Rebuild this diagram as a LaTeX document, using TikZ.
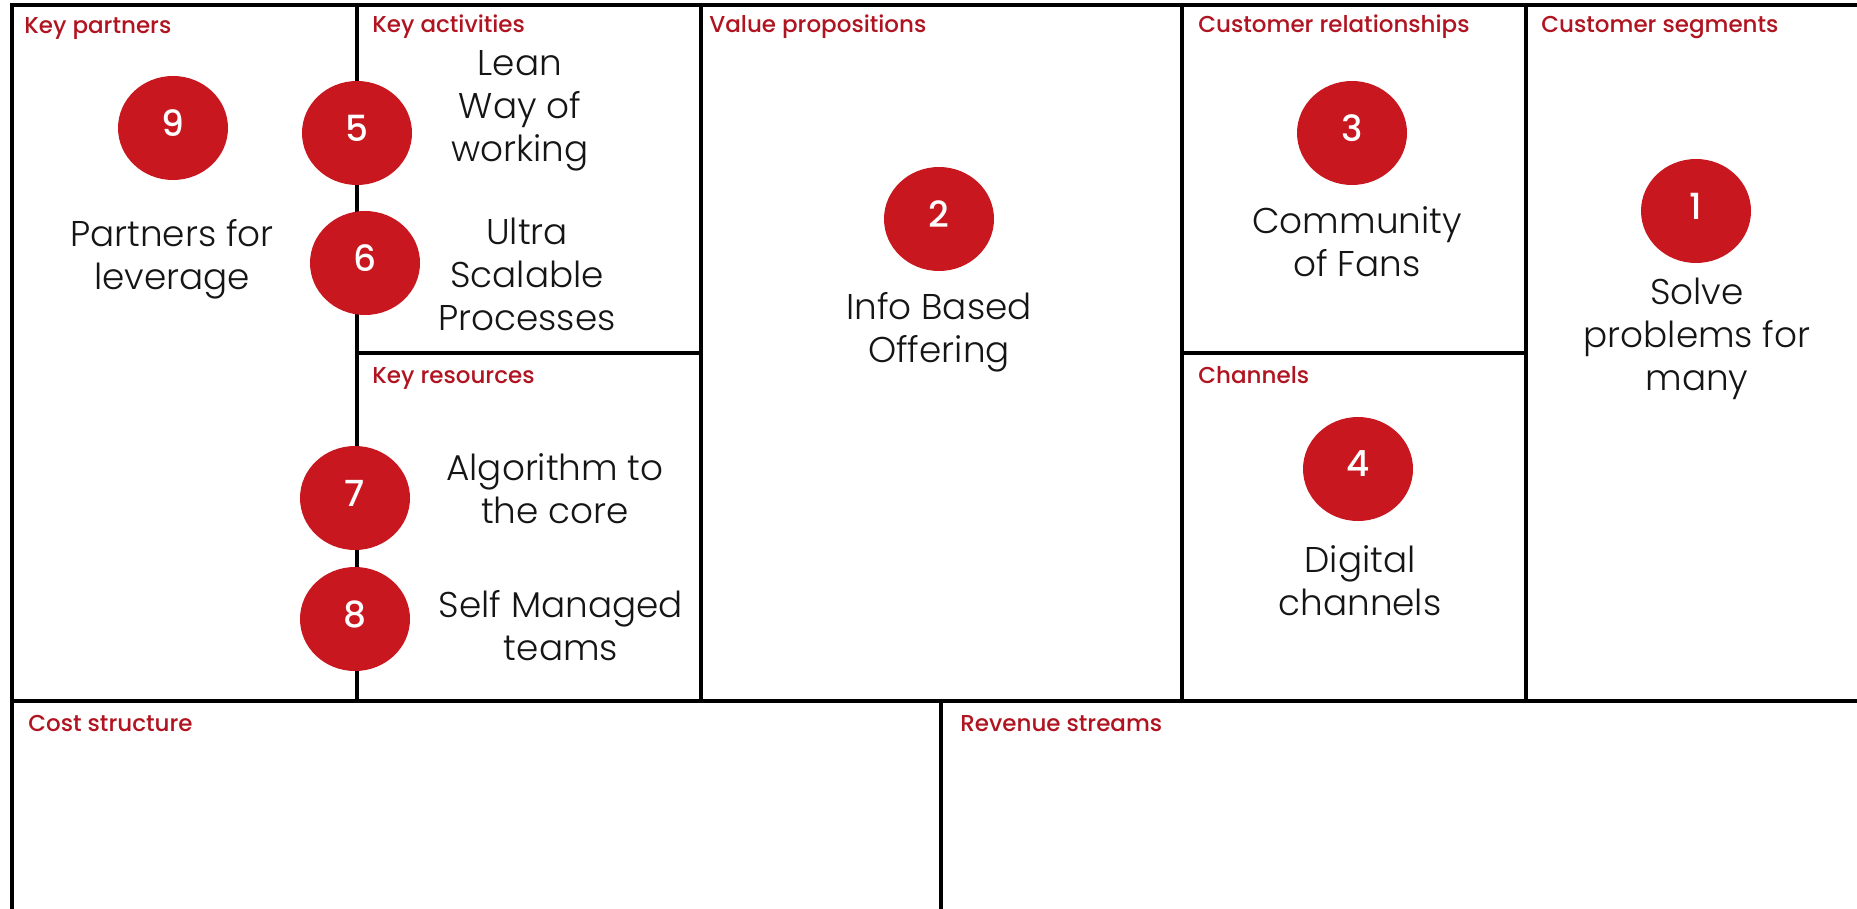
\documentclass[tikz,border=0pt]{standalone}
\usepackage{fontspec}
\setmainfont{Poppins}
\newfontfamily\lightfont{Poppins Light}
\newfontfamily\medfont{Poppins Medium}
\usetikzlibrary{shapes.geometric}
\definecolor{titlered}{HTML}{B01420}
\definecolor{numred}{HTML}{C8171E}
\definecolor{ink}{HTML}{151515}
\tikzset{
  frame/.style={line width=1.75pt, draw=black},
  ttl/.style={anchor=base west, inner sep=0pt, text=titlered, font=\medfont\fontsize{11.5pt}{14pt}\selectfont},
  body/.style={anchor=base, align=center, inner sep=0pt, text=ink, font=\lightfont\fontsize{17.9pt}{21.5pt}\selectfont},
  num/.style={ellipse, fill=numred, minimum width=55pt, minimum height=52pt, inner sep=0pt, text=white, font=\medfont\fontsize{18pt}{18pt}\selectfont}
}
\newcommand{\numtxt}[1]{\raisebox{2.5pt}[\height][0pt]{#1}}
\begin{document}
\begin{tikzpicture}[x=0.5pt,y=-0.5pt]
\useasboundingbox[fill=white] (0,0) rectangle (1857,909);
% grid
\draw[frame] (12,909) -- (12,5) -- (1857,5);
\draw[frame] (12,701) -- (1857,701);
\draw[frame] (357,5) -- (357,701);
\draw[frame] (701,5) -- (701,701);
\draw[frame] (1182,5) -- (1182,701);
\draw[frame] (1526,5) -- (1526,701);
\draw[frame] (357,353) -- (701,353);
\draw[frame] (1182,353) -- (1526,353);
\draw[frame] (941,701) -- (941,909);
% titles
\node[ttl] (tkp) at (24,34) {Key partners};
\node[ttl] (tka) at (372,33) {Key activities};
\node[ttl] (tvp) at (709,33) {Value propositions};
\node[ttl] (tcr) at (1198,33) {Customer relationships};
\node[ttl] (tcs) at (1541,33) {Customer segments};
\node[ttl] (tkr) at (372,383) {Key resources};
\node[ttl] (tch) at (1198,383) {Channels};
\node[ttl] (tco) at (28,731) {Cost structure};
\node[ttl] (trs) at (960,731) {Revenue streams};
% numbered circles
\node[num] (n9) at (173,128) {\numtxt{9}};
\node[num] (n5) at (357,133) {\numtxt{5}};
\node[num] (n6) at (365,263) {\numtxt{6}};
\node[num] (n7) at (355,498) {\numtxt{7}};
\node[num] (n8) at (355,619) {\numtxt{8}};
\node[num] (n2) at (939,219) {\numtxt{2}};
\node[num] (n3) at (1352,133) {\numtxt{3}};
\node[num] (n4) at (1358,469) {\numtxt{4}};
\node[num] (n1) at (1696,211) {\numtxt{1}};
% texts (anchored at the baseline of the last line)
\node[body] (b9) at (172,290) {Partners for\\leverage};
\node[body] (b5) at (520,162) {Lean\\Way of\\working};
\node[body] (b6) at (527,330) {Ultra\\Scalable\\Processes};
\node[body] (b7) at (555,523) {Algorithm to\\the core};
\node[body] (b8) at (561,660) {Self Managed\\teams};
\node[body] (b2) at (939,362) {Info Based\\Offering};
\node[body] (b3) at (1357,277) {Community\\of Fans};
\node[body] (b4) at (1360,615) {Digital\\channels};
\node[body] (b1) at (1697,390) {Solve\\problems for\\many};
\end{tikzpicture}
\end{document}
